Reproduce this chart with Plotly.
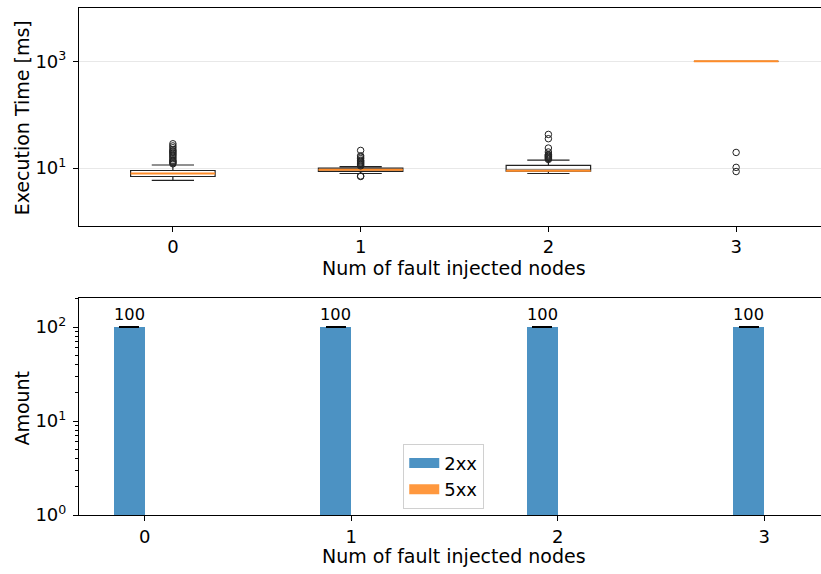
import plotly.graph_objects as go

# ---------------- data ----------------
categories = [0, 1, 2, 3]

# execution time box statistics [ms]
exec_lowerfence = [5.85, 7.9, 7.9, 1000]
exec_q1 = [6.95, 8.63, 8.79, 1000]
exec_median = [7.9, 9.3, 8.9, 1000]
exec_q3 = [9.0, 10.0, 11.2, 1000]
exec_upperfence = [11.4, 10.6, 14.1, 1000]
exec_outliers = [
    [12, 12.5, 13, 13.5, 14, 15, 16, 17, 18, 19, 20, 21, 22, 24, 26, 28.5],
    [6.95, 7.1, 11, 11.5, 12, 12.5, 13, 13.5, 14, 15, 16, 17, 21.4],
    [14.5, 15, 15.5, 16, 16.5, 17, 17.5, 18, 20, 23.7, 35.5, 42.7],
    [8.6, 10.3, 19.6],
]

# response counts
series_names = ["2xx", "5xx"]
amount_2xx = [100, 100, 100, 100]
amount_5xx = [0, 0, 0, 0]
amount_err = [0, 0, 0, 0]

# ---------------- styles ----------------
FONT = "DejaVu Sans"
BLUE = "#4c92c3"
ORANGE = "#ff983e"
MEDIAN = "#ff8c28"
BOX_W = 0.45
BAR_W = 0.15
TICK_SIZE = 18
TITLE_SIZE = 19

fig = go.Figure()

# boxes (top)
fig.add_trace(go.Box(
    x=categories, q1=exec_q1, median=exec_median, q3=exec_q3,
    lowerfence=exec_lowerfence, upperfence=exec_upperfence,
    width=BOX_W, whiskerwidth=0.5, boxpoints=False,
    line=dict(color="#222222", width=1.2), fillcolor="rgba(255,255,255,0)",
    showlegend=False, xaxis="x", yaxis="y", hoverinfo="skip",
))

# medians
mx, my = [], []
for c, m in zip(categories, exec_median):
    mx += [c - BOX_W / 2, c + BOX_W / 2, None]
    my += [m, m, None]
fig.add_trace(go.Scatter(x=mx, y=my, mode="lines", line=dict(color=MEDIAN, width=2),
                         showlegend=False, xaxis="x", yaxis="y", hoverinfo="skip"))

# fliers
ox, oy = [], []
for c, vals in zip(categories, exec_outliers):
    ox += [c] * len(vals)
    oy += vals
fig.add_trace(go.Scatter(x=ox, y=oy, mode="markers",
                         marker=dict(symbol="circle-open", size=6.5, color="#222222", line=dict(width=1)),
                         showlegend=False, xaxis="x", yaxis="y", hoverinfo="skip"))

# bars (bottom)
fig.add_trace(go.Bar(
    x=categories, y=amount_2xx, name=series_names[0], width=BAR_W, offset=-BAR_W,
    marker=dict(color=BLUE, line=dict(width=0)),
    error_y=dict(type="data", array=amount_err, visible=True, color="black", thickness=1.5, width=10),
    text=[str(v) for v in amount_2xx], textposition="outside",
    textfont=dict(family=FONT, size=TICK_SIZE, color="black"), cliponaxis=False,
    xaxis="x2", yaxis="y2", showlegend=False,
))
fig.add_trace(go.Bar(
    x=categories, y=amount_5xx, name=series_names[1], width=BAR_W, offset=0,
    marker=dict(color=ORANGE, line=dict(width=0)),
    xaxis="x2", yaxis="y2", showlegend=False,
))
# legend patches (wide rectangles like the reference)
for name, col in zip(series_names, [BLUE, ORANGE]):
    fig.add_trace(go.Scatter(x=[None], y=[None], mode="lines", name=name,
                             line=dict(color=col, width=14), xaxis="x2", yaxis="y2"))

axis_common = dict(
    showline=True, linecolor="black", linewidth=1.2, ticks="outside",
    ticklen=5, tickwidth=1.2, tickcolor="black",
    tickfont=dict(family=FONT, size=TICK_SIZE, color="black"),
    zeroline=False,
)

fig.update_layout(
    width=821, height=574,
    margin=dict(l=78.5, r=0, t=8, b=58.7),
    plot_bgcolor="white", paper_bgcolor="white",
    font=dict(family=FONT, size=TICK_SIZE, color="black"),
    bargap=0,
    xaxis=dict(domain=[0, 1], range=[-0.5, 3.452], anchor="y", mirror=True,
               tickvals=categories, ticktext=[str(c) for c in categories],
               showgrid=False, **axis_common),
    yaxis=dict(domain=[0.571, 1], type="log", range=[-0.077, 4.0], anchor="x",
               tickvals=[10, 1000], ticktext=["10<sup>1</sup>", "10<sup>3</sup>"],
               showgrid=True, gridcolor="#e8e8e8", gridwidth=1, ticklabelstandoff=3, **axis_common),
    xaxis2=dict(domain=[0, 1], range=[-0.318, 3.275], anchor="y2", mirror=True,
                tickvals=categories, ticktext=[str(c) for c in categories],
                showgrid=False, **axis_common),
    yaxis2=dict(domain=[0, 0.428], type="log", range=[0, 2.31], anchor="x2",
                tickvals=[1, 10, 100], ticktext=["10<sup>0</sup>", "10<sup>1</sup>", "10<sup>2</sup>"],
                showgrid=False, ticklabelstandoff=3,
                minor=dict(ticks="outside", ticklen=3, tickwidth=1, tickcolor="black",
                           tickvals=[m * d for d in (1, 10, 100) for m in range(2, 10)], showgrid=False),
                **axis_common),
    legend=dict(x=0.437, y=0.1405, xanchor="left", yanchor="top",
                bgcolor="rgba(255,255,255,0.9)", bordercolor="#d0d0d0", borderwidth=1,
                font=dict(family=FONT, size=TICK_SIZE, color="black"), traceorder="normal",
                tracegroupgap=0),
    annotations=[
        dict(text="Num of fault injected nodes", xref="paper", yref="paper", x=0.5057, y=0.488,
             showarrow=False, font=dict(family=FONT, size=TITLE_SIZE), xanchor="center", yanchor="middle"),
        dict(text="Num of fault injected nodes", xref="paper", yref="paper", x=0.5057, y=-0.0815,
             showarrow=False, font=dict(family=FONT, size=TITLE_SIZE), xanchor="center", yanchor="middle"),
        dict(text="Execution Time [ms]", xref="paper", yref="paper", x=-0.0774, y=0.7835, textangle=-90,
             showarrow=False, font=dict(family=FONT, size=TITLE_SIZE), xanchor="center", yanchor="middle"),
        dict(text="Amount", xref="paper", yref="paper", x=-0.0774, y=0.211, textangle=-90,
             showarrow=False, font=dict(family=FONT, size=TITLE_SIZE), xanchor="center", yanchor="middle"),
    ],
)

fig.write_html("out.html")
